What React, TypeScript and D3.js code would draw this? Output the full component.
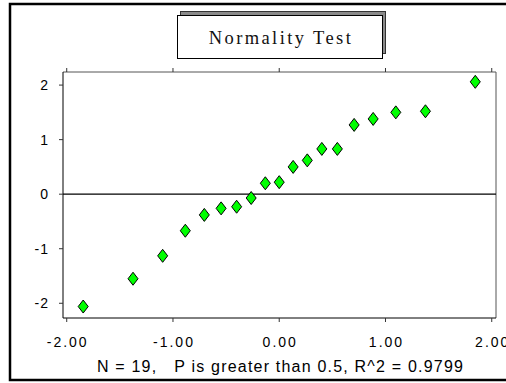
import React from "react";
import * as d3 from "d3";

const xQuantiles = [-1.845, -1.376, -1.097, -0.884, -0.705, -0.547, -0.401, -0.264, -0.131, 0, 0.131, 0.264, 0.401, 0.547, 0.705, 0.884, 1.097, 1.376, 1.845];
const yValues = [-2.06, -1.55, -1.13, -0.67, -0.38, -0.26, -0.23, -0.07, 0.2, 0.22, 0.5, 0.62, 0.83, 0.83, 1.27, 1.38, 1.5, 1.52, 2.06];
const xTicks = [-2, -1, 0, 1, 2];
const yTicks = [-2, -1, 0, 1, 2];
const title = "Normality Test";
const footer = "N = 19,   P is greater than 0.5, R^2 = 0.9799";

export default function App() {
  const W = 506, H = 383;
  const L = 63, R = 496, T = 72, B = 318;
  const x = d3.scaleLinear().domain([-2.035, 2.04]).range([L, R]);
  const y = d3.scaleLinear().domain([-2.27, 2.24]).range([B, T]);
  const sans = "'Liberation Sans', Arial, sans-serif";
  const serif = "'Liberation Serif', 'Times New Roman', serif";
  const diamond = (cx: number, cy: number) =>
    `M${cx},${cy - 6.5} L${cx + 5},${cy} L${cx},${cy + 6.5} L${cx - 5},${cy} Z`;
  return (
    <svg width={W} height={H} style={{ position: "absolute", left: 0, top: 0, background: "#fff" }}>
      <rect x={0} y={0} width={W} height={H} fill="#fff" />
      {/* outer frame */}
      <rect x={10} y={4} width={510} height={376} fill="none" stroke="#000" strokeWidth={2.5} />
      {/* title box */}
      <rect x={180.5} y={11.5} width={205} height={42} fill="#8a8a8a" stroke="#333" strokeWidth={1} />
      <rect x={177.5} y={15.5} width={205} height={43} fill="#fff" stroke="#000" strokeWidth={1} />
      <text x={281} y={43.5} textAnchor="middle" fontFamily={serif} fontSize={18.5} letterSpacing={2.4} fill="#111">
        {title}
      </text>
      {/* plot border */}
      <line x1={L} y1={T} x2={R} y2={T} stroke="#555" strokeWidth={1} />
      <line x1={R} y1={T} x2={R} y2={B} stroke="#555" strokeWidth={1} />
      <line x1={L} y1={T} x2={L} y2={B} stroke="#000" strokeWidth={1} />
      <line x1={L} y1={B} x2={R} y2={B} stroke="#000" strokeWidth={1} />
      {/* zero line */}
      <line x1={L} y1={y(0)} x2={R} y2={y(0)} stroke="#000" strokeWidth={1.3} />
      {/* x ticks top and bottom */}
      {xTicks.map((t) => (
        <g key={"xt" + t}>
          <line x1={x(t)} y1={T - 4} x2={x(t)} y2={T} stroke="#333" strokeWidth={1} />
          <line x1={x(t)} y1={B} x2={x(t)} y2={B + 4} stroke="#333" strokeWidth={1} />
          <text x={x(t) + 1} y={346.5} textAnchor="middle" fontFamily={sans} fontSize={14} letterSpacing={2} fill="#000">
            {t.toFixed(2)}
          </text>
        </g>
      ))}
      {yTicks.map((t) => (
        <g key={"yt" + t}>
          <line x1={L - 4} y1={y(t)} x2={L} y2={y(t)} stroke="#333" strokeWidth={1} />
          <text x={49} y={y(t) + 5} textAnchor="end" fontFamily={sans} fontSize={14} letterSpacing={1} fill="#000">
            {t}
          </text>
        </g>
      ))}
      {/* points */}
      {xQuantiles.map((xv, i) => (
        <path key={i} d={diamond(x(xv), y(yValues[i]))} fill="#00ff00" stroke="#000" strokeWidth={1} />
      ))}
      <text x={280.5} y={371.5} textAnchor="middle" fontFamily={sans} fontSize={16} letterSpacing={1.2} fill="#000" style={{ whiteSpace: "pre" }}>
        {footer}
      </text>
    </svg>
  );
}
